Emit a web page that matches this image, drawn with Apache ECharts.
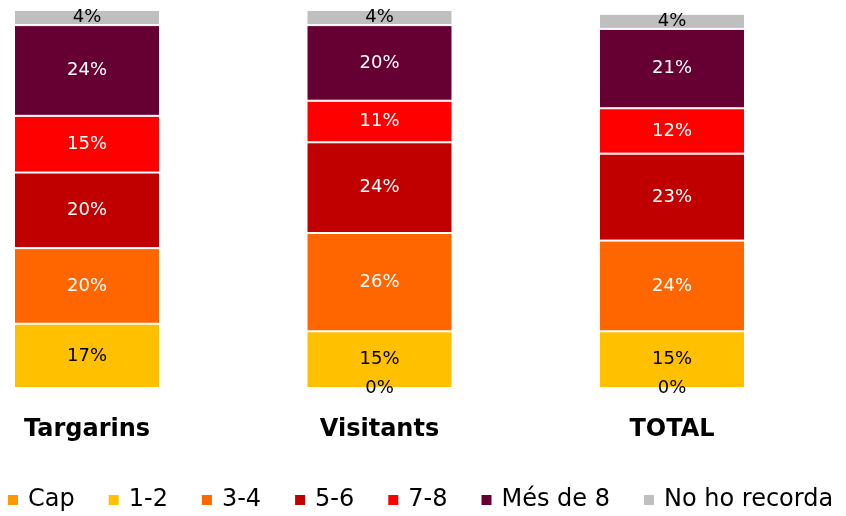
<!DOCTYPE html>
<html>
<head>
<meta charset="utf-8">
<script src="https://cdn.jsdelivr.net/npm/echarts@6/dist/echarts.min.js"></script>
<style>
  html, body { margin: 0; padding: 0; background: #fff; }
  #main { width: 846px; height: 516px; }
</style>
</head>
<body>
<div id="main"></div>
<script>
// categories and series (percent)
var categories = ['Targarins', 'Visitants', 'TOTAL'];
var seriesNames = ['Cap', '1-2', '3-4', '5-6', '7-8', 'Més de 8', 'No ho recorda'];
var cap = [null, 0, 0];
var v12 = [17, 15, 15];
var v34 = [20, 26, 24];
var v56 = [20, 24, 23];
var v78 = [15, 11, 12];
var mes8 = [24, 20, 21];
var noRec = [4, 4, 4];
var colors = ['#FF9900', '#FFC000', '#FF6600', '#C00000', '#FF0000', '#660033', '#BFBFBF'];
var labelColors = ['#000', '#000', '#fff', '#fff', '#fff', '#fff', '#000'];

var values = [cap, v12, v34, v56, v78, mes8, noRec];
var font = '"DejaVu Sans", sans-serif';

var series = seriesNames.map(function (name, i) {
  return {
    name: name,
    type: 'bar',
    stack: 'total',
    barWidth: 146,
    data: values[i],
    itemStyle: { color: colors[i], borderColor: '#fff', borderWidth: 1 },
    label: {
      show: true,
      position: 'inside',
      color: labelColors[i],
      fontSize: 18,
      fontFamily: font,
      formatter: function (p) { return p.value + '%'; }
    }
  };
});

var myChart = echarts.init(document.getElementById('main'));
var option = {
  animation: false,
  color: colors,
  grid: { left: 87, right: 174, top: 10, bottom: 128 },
  legend: {
    bottom: 4,
    left: 6,
    right: 0,
    padding: 0,
    itemWidth: 12,
    itemHeight: 12,
    itemGap: 32,
    icon: 'rect',
    textStyle: { fontSize: 24, fontFamily: font, color: '#000', padding: [0, 0, 0, 4] },
    data: seriesNames
  },
  xAxis: {
    type: 'category',
    data: categories,
    boundaryGap: false,
    axisLine: { show: false },
    axisTick: { show: false },
    axisLabel: { fontSize: 24, fontWeight: 'bold', color: '#000', margin: 30, fontFamily: font }
  },
  yAxis: {
    type: 'value',
    min: 0,
    max: 100,
    show: false
  },
  series: series
};
myChart.setOption(option);
</script>
</body>
</html>
